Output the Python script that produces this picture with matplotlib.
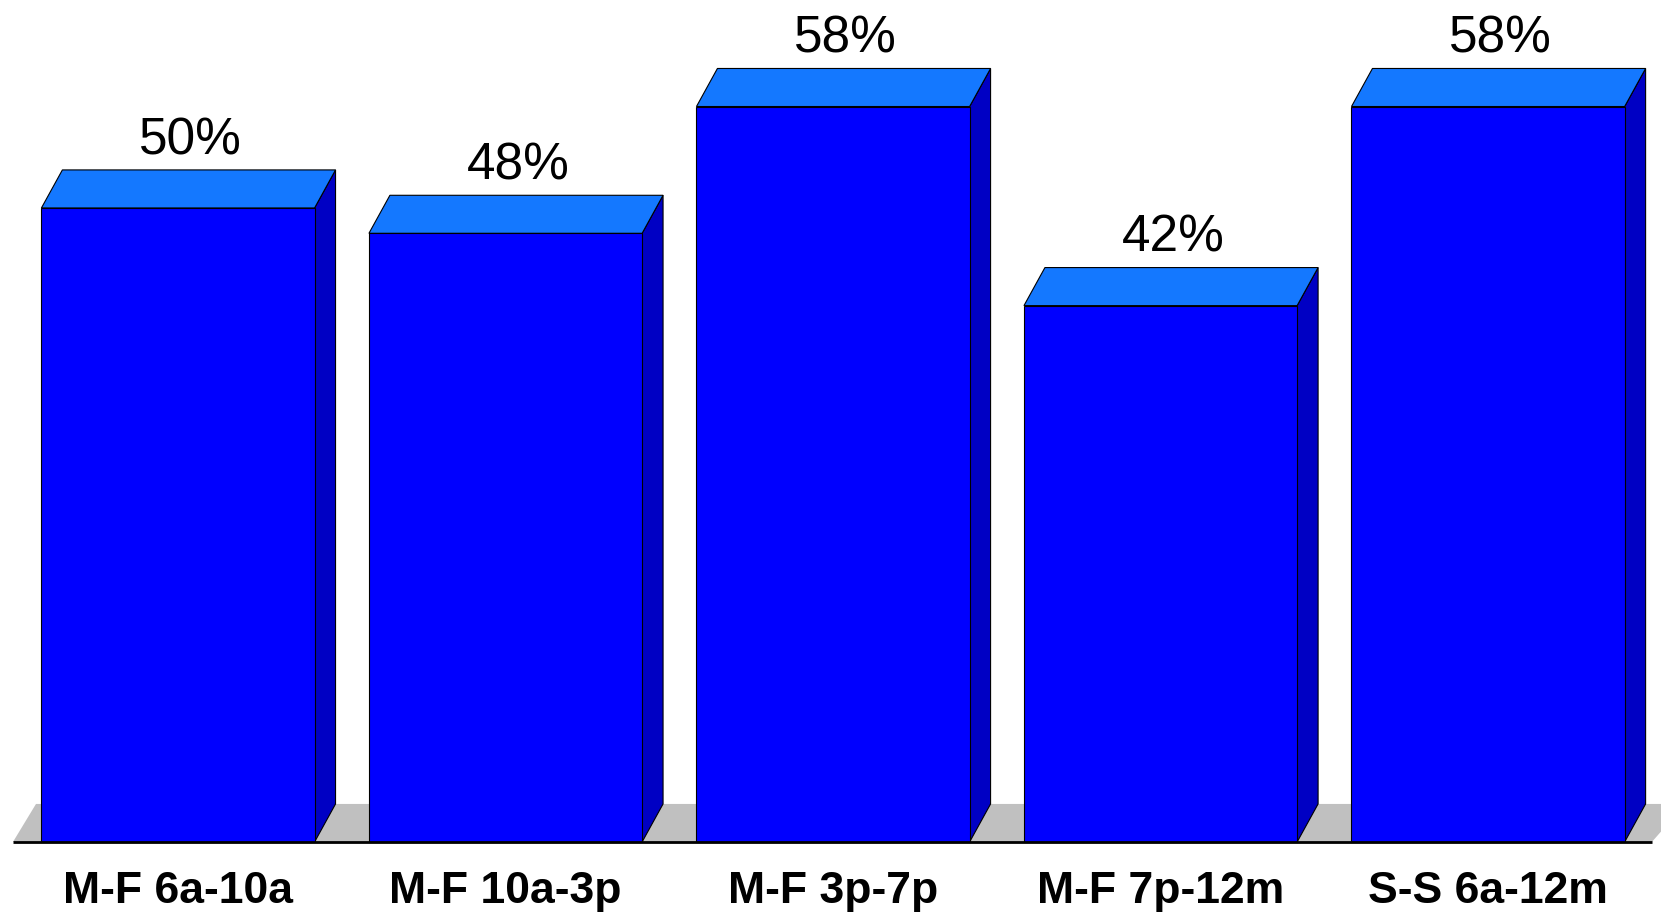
#!/usr/bin/env python3
"""3D-style bar chart: share by time slot"""

import matplotlib.pyplot as plt
from matplotlib.patches import Polygon

plt.rcParams['font.family'] = ['Liberation Sans', 'DejaVu Sans']

# data
categories = ['M-F 6a-10a', 'M-F 10a-3p', 'M-F 3p-7p', 'M-F 7p-12m', 'S-S 6a-12m']
values = [50, 48, 58, 42.3, 58]
value_labels = ['50%', '48%', '58%', '42%', '58%']

# colours
FRONT = '#0000FF'
TOP = '#1478FF'
SIDE = '#0000C4'
FLOOR = '#C0C0C0'

BAR_W = 0.834
DX, DY = 0.064, 3.0  # depth offset in data units

fig = plt.figure(figsize=(16.61, 9.13), dpi=100)
ax = fig.add_axes([0, 0, 1, 1])
ax.set_xlim(-0.5435, 4.528)
ax.set_ylim(-5.6, 66.4)
ax.axis('off')

# floor
x0, x1 = -0.504, 4.50
ax.add_patch(Polygon([(x0, 0), (x1, 0), (x1 + DX * 1.6, DY), (x0 + DX * 1.1, DY)],
                     closed=True, facecolor=FLOOR, edgecolor='none', zorder=1))

for i, v in enumerate(values):
    l, r = i - BAR_W / 2, i + BAR_W / 2
    # side face
    ax.add_patch(Polygon([(r, 0), (r + DX, DY), (r + DX, v + DY), (r, v)],
                         closed=True, facecolor=SIDE, edgecolor='black', linewidth=0.8, zorder=2))
    # top face
    ax.add_patch(Polygon([(l, v), (r, v), (r + DX, v + DY), (l + DX, v + DY)],
                         closed=True, facecolor=TOP, edgecolor='black', linewidth=0.8, zorder=2))

# front faces
ax.bar(range(len(values)), values, width=BAR_W, color=FRONT, edgecolor='black',
       linewidth=0.8, zorder=3)

# baseline
ax.plot([x0, x1], [0, 0], color='black', linewidth=2, zorder=4, solid_capstyle='butt')

for i, (v, lab) in enumerate(zip(values, value_labels)):
    ax.text(i + 0.038, v + DY + 1.25, lab, ha='center', va='baseline', fontsize=37)

for i, cat in enumerate(categories):
    ax.text(i, -4.85, cat, ha='center', va='baseline', fontsize=32, fontweight='bold')

plt.savefig('out.png', dpi=100)
plt.close()
